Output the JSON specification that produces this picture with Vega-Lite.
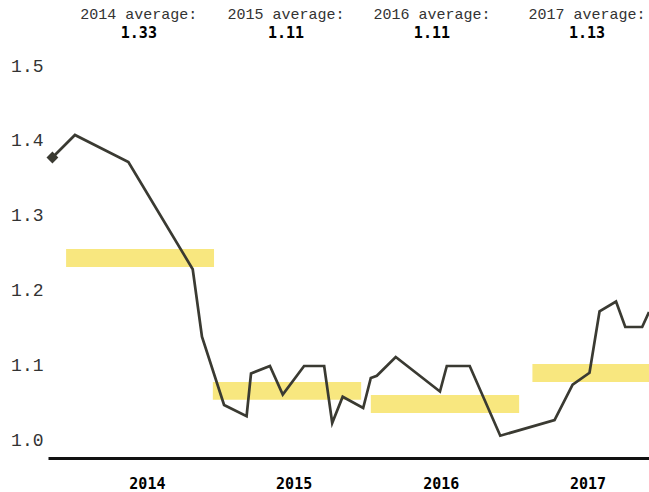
{
  "$schema": "https://vega.github.io/schema/vega-lite/v6.json",
  "autosize": {"type": "none"},
  "padding": {"left": 48, "top": 66, "right": 0, "bottom": 34},
  "width": 601,
  "height": 392,
  "background": "white",
  "config": {"view": {"stroke": null}, "font": "DejaVu Sans Mono"},
  "datasets": {
    "series": [
      {"date": "2013-11-09", "value": 1.378},
      {"date": "2014-01-04", "value": 1.408},
      {"date": "2014-05-17", "value": 1.372},
      {"date": "2014-10-24", "value": 1.229},
      {"date": "2014-11-16", "value": 1.139},
      {"date": "2015-01-10", "value": 1.048},
      {"date": "2015-03-07", "value": 1.033},
      {"date": "2015-03-18", "value": 1.090},
      {"date": "2015-05-04", "value": 1.100},
      {"date": "2015-06-05", "value": 1.062},
      {"date": "2015-07-28", "value": 1.100},
      {"date": "2015-09-16", "value": 1.100},
      {"date": "2015-10-06", "value": 1.024},
      {"date": "2015-11-01", "value": 1.059},
      {"date": "2015-12-22", "value": 1.044},
      {"date": "2016-01-10", "value": 1.084},
      {"date": "2016-01-25", "value": 1.087},
      {"date": "2016-03-12", "value": 1.112},
      {"date": "2016-06-30", "value": 1.066},
      {"date": "2016-07-17", "value": 1.100},
      {"date": "2016-09-12", "value": 1.100},
      {"date": "2016-11-27", "value": 1.007},
      {"date": "2017-04-11", "value": 1.028},
      {"date": "2017-05-26", "value": 1.075},
      {"date": "2017-07-07", "value": 1.091},
      {"date": "2017-08-01", "value": 1.173},
      {"date": "2017-09-11", "value": 1.186},
      {"date": "2017-10-04", "value": 1.152},
      {"date": "2017-11-15", "value": 1.152},
      {"date": "2017-12-02", "value": 1.172}
    ],
    "bands": [
      {"year": 2014, "start": "2013-12-13", "end": "2014-12-16", "lo": 1.232, "hi": 1.256},
      {"year": 2015, "start": "2014-12-13", "end": "2015-12-17", "lo": 1.055, "hi": 1.0787},
      {"year": 2016, "start": "2016-01-10", "end": "2017-01-13", "lo": 1.0373, "hi": 1.0613},
      {"year": 2017, "start": "2017-02-15", "end": "2018-02-17", "lo": 1.0787, "hi": 1.1027}
    ],
    "headers": [
      {"year": 2014, "mid": "2014-06-12", "label": "2014 average:", "avg": 1.33},
      {"year": 2015, "mid": "2015-06-13", "label": "2015 average:", "avg": 1.11},
      {"year": 2016, "mid": "2016-06-10", "label": "2016 average:", "avg": 1.11},
      {"year": 2017, "mid": "2017-07-01", "label": "2017 average:", "avg": 1.13}
    ]
  },
  "layer": [
    {
      "data": {"name": "bands"},
      "mark": {"type": "rect", "fill": "#f8e77f", "clip": true},
      "encoding": {
        "x": {"field": "start", "type": "temporal",
          "scale": {"type": "utc", "domain": [{"year": 2013, "month": 10, "date": 29, "utc": true}, {"year": 2017, "month": 12, "date": 2, "utc": true}]},
          "axis": {
            "values": [{"year": 2014, "month": 7, "date": 2, "utc": true}, {"year": 2015, "month": 7, "date": 2, "utc": true}, {"year": 2016, "month": 7, "date": 2, "utc": true}, {"year": 2017, "month": 7, "date": 2, "utc": true}],
            "labelExpr": "utcFormat(datum.value, '%Y')",
            "title": null, "grid": false, "ticks": false,
            "domain": true, "domainColor": "#111", "domainWidth": 3,
            "labelFont": "DejaVu Sans Mono", "labelFontWeight": "bold", "labelFontSize": 15, "labelColor": "#000",
            "labelPadding": 18
          }},
        "x2": {"field": "end"},
        "y": {"field": "lo", "type": "quantitative",
          "scale": {"domain": [0.97733, 1.5], "zero": false, "nice": false},
          "axis": {
            "values": [1.0, 1.1, 1.2, 1.3, 1.4, 1.5],
            "format": ".1f",
            "title": null, "grid": false, "ticks": false, "domain": false,
            "labelFont": "Liberation Mono", "labelFontSize": 18, "labelColor": "#333",
            "labelPadding": 5
          }},
        "y2": {"field": "hi"}
      }
    },
    {
      "data": {"name": "series"},
      "mark": {"type": "line", "stroke": "#3a3a32", "strokeWidth": 2.7, "clip": true},
      "encoding": {
        "x": {"field": "date", "type": "temporal"},
        "y": {"field": "value", "type": "quantitative"}
      }
    },
    {
      "data": {"name": "series"},
      "transform": [{"window": [{"op": "row_number", "as": "i"}]}, {"filter": "datum.i == 1"}],
      "mark": {"type": "point", "shape": "diamond", "filled": true, "size": 140, "color": "#3a3a32", "opacity": 1},
      "encoding": {
        "x": {"field": "date", "type": "temporal"},
        "y": {"field": "value", "type": "quantitative"}
      }
    },
    {
      "data": {"name": "headers"},
      "mark": {"type": "text", "font": "Liberation Mono", "fontSize": 15, "color": "#333", "align": "center", "baseline": "alphabetic"},
      "encoding": {
        "x": {"field": "mid", "type": "temporal"},
        "y": {"datum": 1.5627, "type": "quantitative"},
        "text": {"field": "label"}
      }
    },
    {
      "data": {"name": "headers"},
      "mark": {"type": "text", "font": "DejaVu Sans Mono", "fontSize": 15, "fontWeight": "bold", "color": "#000", "align": "center", "baseline": "alphabetic"},
      "encoding": {
        "x": {"field": "mid", "type": "temporal"},
        "y": {"datum": 1.5373, "type": "quantitative"},
        "text": {"field": "avg", "type": "quantitative", "format": ".2f"}
      }
    }
  ]
}
